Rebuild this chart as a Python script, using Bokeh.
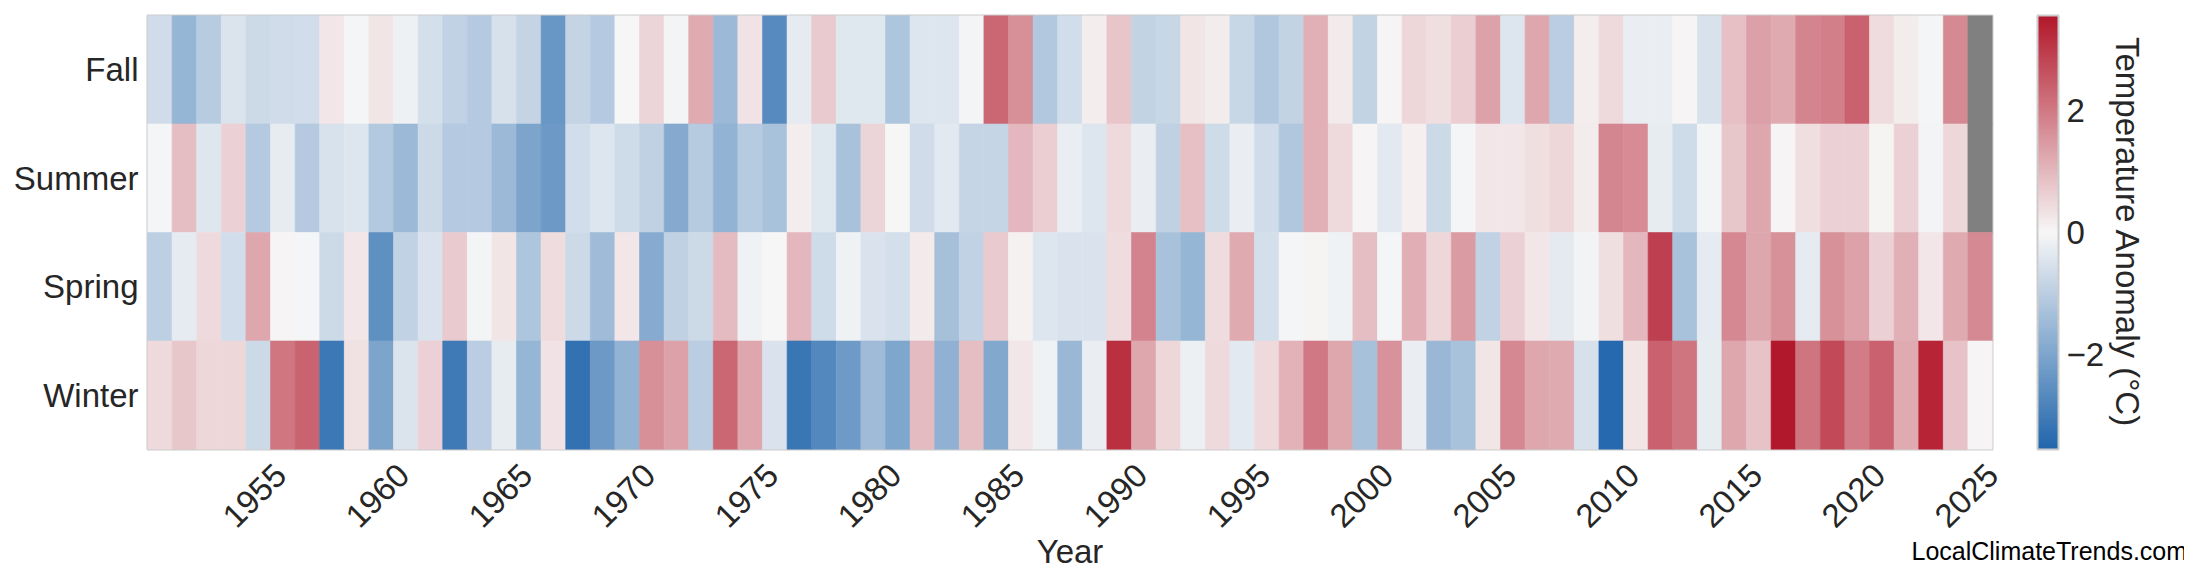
import numpy as np
from bokeh.plotting import figure
from bokeh.models import (ColumnDataSource, LinearColorMapper, ColorBar, FixedTicker,
                          Range1d, FactorRange, CategoricalAxis)
from bokeh.embed import file_html
from bokeh.resources import INLINE

nan = float("nan")

years = list(range(1951, 2026))
seasons = ["Winter", "Spring", "Summer", "Fall"]

fall = [-0.65, -1.6, -1.05, -0.45, -0.7, -0.65, -0.62, 0.25, -0.05, 0.3,
        -0.15, -0.6, -0.9, -1.1, -0.55, -0.85, -2.35, -0.85, -1.1, -0.02,
        0.55, -0.08, 1.2, -1.5, 0.33, -2.65, -0.28, 0.7, -0.38, -0.38,
        -1.2, -0.42, -0.42, -0.08, 2.3, 1.65, -1.15, -0.62, 0.15, 0.78,
        -0.88, -0.8, 0.3, 0.17, -0.8, -1.18, -0.88, 1.12, 0.2, -0.86,
        0.05, 0.5, 0.38, 0.65, 1.35, -0.43, 1.3, -1.02, 0.15, 0.45,
        -0.22, -0.2, 0.05, -0.52, 0.88, 1.38, 1.2, 1.82, 1.9, 2.38,
        0.42, 0.17, -0.05, 1.72, nan]

summer = [-0.05, 0.9, -0.4, 0.6, -1.1, -0.25, -1.1, -0.5, -0.42, -1.12,
          -1.5, -0.7, -1.1, -1.1, -1.5, -2.0, -2.3, -0.62, -0.42, -0.68,
          -0.92, -1.88, -1.08, -1.65, -1.08, -1.3, 0.15, -0.38, -1.3, 0.55,
          0.0, -0.65, -0.35, -0.83, -0.83, 1.0, 0.65, -0.22, -0.43, 0.45,
          -0.2, -0.94, 0.88, -0.67, -0.22, -0.65, -1.18, 1.12, 0.45, 0.03,
          -0.36, 0.13, -0.7, -0.05, 0.25, 0.25, 0.38, 0.5, 0.17, 1.8,
          1.7, -0.27, -0.67, -0.08, 0.75, 1.3, 0.03, 0.38, 0.6, 0.6,
          0.07, 0.6, -0.06, 0.5, nan]

spring = [-0.95, -0.3, 0.45, -0.62, 1.25, 0.05, -0.05, -0.7, 0.25, -2.5,
          -0.9, -0.48, 0.7, -0.08, 0.3, -1.2, 0.42, -0.7, -1.45, 0.25,
          -1.85, -0.92, -0.7, 0.95, -0.12, 0.0, 1.0, -0.67, -0.13, -0.48,
          -0.6, 0.2, -1.35, -0.9, 0.72, 0.1, -0.42, -0.48, -0.48, 0.42,
          1.85, -1.3, -1.6, 0.42, 1.2, -0.6, -0.03, 0.07, -0.13, 0.9,
          -0.05, 1.15, 0.5, 1.45, -0.9, 0.6, 0.25, -0.32, -0.1, 0.38,
          1.0, 2.9, -1.28, -0.3, 1.75, 1.27, 1.62, -0.28, 1.62, 1.35,
          0.6, 1.12, 0.25, 1.22, 1.72]

winter = [0.45, 0.75, 0.5, 0.5, -0.7, 2.05, 2.35, -3.1, 0.35, -2.0,
          -0.45, 0.6, -3.05, -1.0, -0.25, -1.6, 0.33, -3.25, -2.3, -1.65,
          1.65, 1.35, -1.02, 2.3, 1.3, -0.48, -3.15, -2.7, -2.25, -1.45,
          -1.98, 0.95, -1.7, 0.9, -1.92, 0.25, -0.13, -1.55, -0.22, 3.15,
          1.25, 0.5, -0.18, 0.45, -0.35, 0.45, 1.1, 2.0, 1.27, -1.32,
          1.6, -0.2, -1.55, -1.3, 0.3, 1.75, 1.27, 1.22, -0.55, -3.45,
          0.3, 2.38, 2.08, -0.25, 1.3, 0.82, 3.55, 2.08, 2.75, 1.95,
          2.38, 1.22, 3.35, 0.82, 0.03]

tick_years = list(range(1955, 2030, 5))
cbar_ticks = [-2, 0, 2]
cbar_labels = ["\u22122", "0", "2"]
cbar_title = "Temperature Anomaly (\u00b0C)"
watermark = "LocalClimateTrends.com"

# ---- colormap (blue - white - red) ----
def hex2rgb(h):
    h = h.lstrip("#")
    return [int(h[i:i + 2], 16) for i in (0, 2, 4)]

c_lo, c_mid, c_hi = hex2rgb("#2166ac"), hex2rgb("#f7f7f7"), hex2rgb("#b2182b")
palette = []
n = 256
for i in range(n):
    t = i / (n - 1)
    if t < 0.5:
        a, b, f = c_lo, c_mid, t / 0.5
    else:
        a, b, f = c_mid, c_hi, (t - 0.5) / 0.5
    rgb = [round(a[k] + (b[k] - a[k]) * f) for k in range(3)]
    palette.append("#%02x%02x%02x" % tuple(rgb))

vlim = 3.55
mapper = LinearColorMapper(palette=palette, low=-vlim, high=vlim, nan_color="#808080")

xs, ys, vs = [], [], []
for name, arr in zip(["Fall", "Summer", "Spring", "Winter"], [fall, summer, spring, winter]):
    for yr, v in zip(years, arr):
        xs.append(yr)
        ys.append(name)
        vs.append(v)
src = ColumnDataSource(dict(year=xs, season=ys, val=np.array(vs, dtype=float)))

FONT = "Liberation Sans"
TXT = "#262626"
FS = "33px"

TOTAL_W = 2184
TOTAL_H = 569

p = figure(x_range=Range1d(1950.5, 2025.5), y_range=FactorRange(factors=seasons),
           frame_width=1845, frame_height=434,
           min_border_left=147, min_border_right=TOTAL_W - 147 - 1845,
           min_border_top=15, min_border_bottom=TOTAL_H - 15 - 434,
           output_backend="svg", toolbar_location=None)

p.rect(x="year", y="season", width=1, height=1, source=src,
       fill_color={"field": "val", "transform": mapper},
       line_color={"field": "val", "transform": mapper}, line_width=0.6)

p.outline_line_color = "#cccccc"
p.outline_line_width = 2
p.grid.visible = False
p.background_fill_color = "white"

# x axis: labels are anchored at their right end, so shift anchor right of the cell centre
xt = [y + (0.9 if y < 2025 else 0.49) for y in tick_years]
p.xaxis.ticker = FixedTicker(ticks=xt)
p.xaxis.major_label_overrides = {t: str(y) for t, y in zip(xt, tick_years)}
p.xaxis.major_label_orientation = np.pi / 4
p.xaxis.axis_label = "Year"
p.xaxis.axis_label_standoff = -8

# right-hand axis (same categorical range, invisible tick labels) carrying the colour-bar title
rax = CategoricalAxis(axis_label=cbar_title, axis_label_standoff=116,
                      major_label_overrides={s_: " " for s_ in seasons})
p.add_layout(rax, "right")

for ax in (p.xaxis[0], p.yaxis[0], rax):
    ax.axis_line_color = None
    ax.major_tick_line_color = None
    ax.minor_tick_line_color = None
    ax.major_tick_out = 0
    ax.major_tick_in = 0
    ax.major_label_text_font = FONT
    ax.major_label_text_font_size = FS
    ax.major_label_text_color = TXT
    ax.axis_label_text_font = FONT
    ax.axis_label_text_font_size = FS
    ax.axis_label_text_font_style = "normal"
    ax.axis_label_text_color = TXT

p.xaxis.major_label_standoff = 20
p.yaxis.major_label_standoff = 9
rax.major_label_standoff = 0
rax.major_label_text_font_size = "1px"
rax.major_label_text_alpha = 0

cb = ColorBar(color_mapper=mapper, width=21, height=434,
              location=(1890, 0), padding=0, margin=0,
              ticker=FixedTicker(ticks=cbar_ticks),
              major_label_overrides={t: l for t, l in zip(cbar_ticks, cbar_labels)},
              major_label_text_font=FONT, major_label_text_font_size=FS,
              major_label_text_color=TXT, label_standoff=8,
              major_tick_line_color=None, minor_tick_line_color=None,
              bar_line_color="#cccccc", bar_line_width=2,
              border_line_color=None, background_fill_alpha=0)
p.add_layout(cb, "center")

# watermark (text-only colour bar title, placed below the frame)
wm_mapper = LinearColorMapper(palette=["#ffffff"], low=0, high=1)
wm = ColorBar(color_mapper=wm_mapper, orientation="horizontal", width=272, height=2,
              location=(1764, -117), padding=0, margin=0,
              title=watermark, title_standoff=0,
              title_text_font=FONT, title_text_font_size="25px",
              title_text_font_style="normal", title_text_color="black",
              ticker=FixedTicker(ticks=[]), major_tick_line_color=None,
              minor_tick_line_color=None, major_label_text_alpha=0, label_standoff=0,
              scale_alpha=0, bar_line_color=None, border_line_color=None,
              background_fill_alpha=0)
p.add_layout(wm, "center")

open("out.html", "w").write(file_html(p, INLINE))
